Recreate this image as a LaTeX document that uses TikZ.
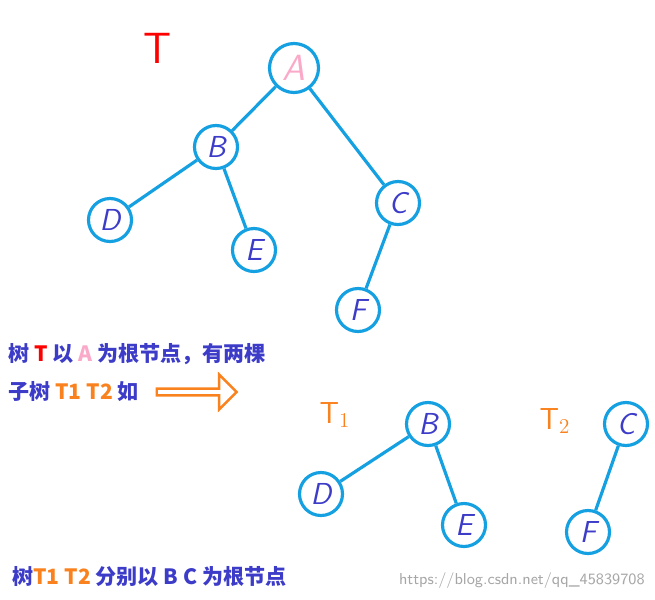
\documentclass[tikz,border=0pt]{standalone}
\usepackage{fontspec}
\newfontfamily\cjk{Noto Sans CJK SC}
\usetikzlibrary{shapes.arrows}
\definecolor{edge}{RGB}{20,160,225}
\definecolor{lett}{RGB}{60,60,200}
\definecolor{orng}{RGB}{250,130,30}
\definecolor{pinkA}{RGB}{250,170,200}
\begin{document}
\begin{tikzpicture}[x=0.02cm,y=-0.02cm,
  tn/.style={circle,draw=edge,line width=1.8pt,minimum size=#1,inner sep=0pt,text=lett,font=\LARGE\itshape\sffamily},
  tn/.default=0.86cm,
  ed/.style={draw=edge,line width=1.8pt},
  txt/.style={anchor=west,inner sep=0pt,font=\cjk\bfseries\fontsize{12}{14}\selectfont,text=lett}]
\useasboundingbox (0,0) rectangle (655,599);
\node[tn=0.98cm,text=pinkA,font=\huge\itshape\sffamily] (A) at (294,68) {A};
\node[tn] (B) at (216,147) {B};
\node[tn] (C) at (398,203) {C};
\node[tn] (D) at (110,220) {D};
\node[tn] (E) at (254,250) {E};
\node[tn] (F) at (358,310) {F};
\draw[ed] (A)--(B); \draw[ed] (A)--(C); \draw[ed] (B)--(D); \draw[ed] (B)--(E); \draw[ed] (C)--(F);
\node[text=red,font=\Huge\sffamily] (T) at (158,48) {T};
\node[tn] (B1) at (428,424) {B};
\node[tn] (D1) at (321,494) {D};
\node[tn] (E1) at (464,525) {E};
\draw[ed] (B1)--(D1); \draw[ed] (B1)--(E1);
\node[tn] (C2) at (626,424) {C};
\node[tn] (F2) at (588,532) {F};
\draw[ed] (C2)--(F2);
\node[text=orng,font=\LARGE\sffamily] (T1) at (335,415) {T$_1$};
\node[text=orng,font=\LARGE\sffamily] (T2) at (555,421) {T$_2$};
\node[txt] (l1) at (8,354) {树 \textcolor{red}{T} 以 \textcolor{pinkA}{A} 为根节点，有两棵};
\node[txt] (l2) at (8,392) {子树 \textcolor{orng}{T1 T2} 如};
\node[single arrow,draw=orng,line width=1.4pt,minimum height=1.6cm,minimum width=0.7cm,single arrow head extend=0.1cm,inner sep=0pt] (ar) at (195,392) {};
\node[txt] (l3) at (12,577) {树\textcolor{orng}{T1 T2} 分别以 B C 为根节点};
\node[anchor=east,inner sep=0pt,text=gray!70,font=\sffamily\small] (wm) at (645,581) {https://blog.csdn.net/qq\_45839708};
\end{tikzpicture}
\end{document}
